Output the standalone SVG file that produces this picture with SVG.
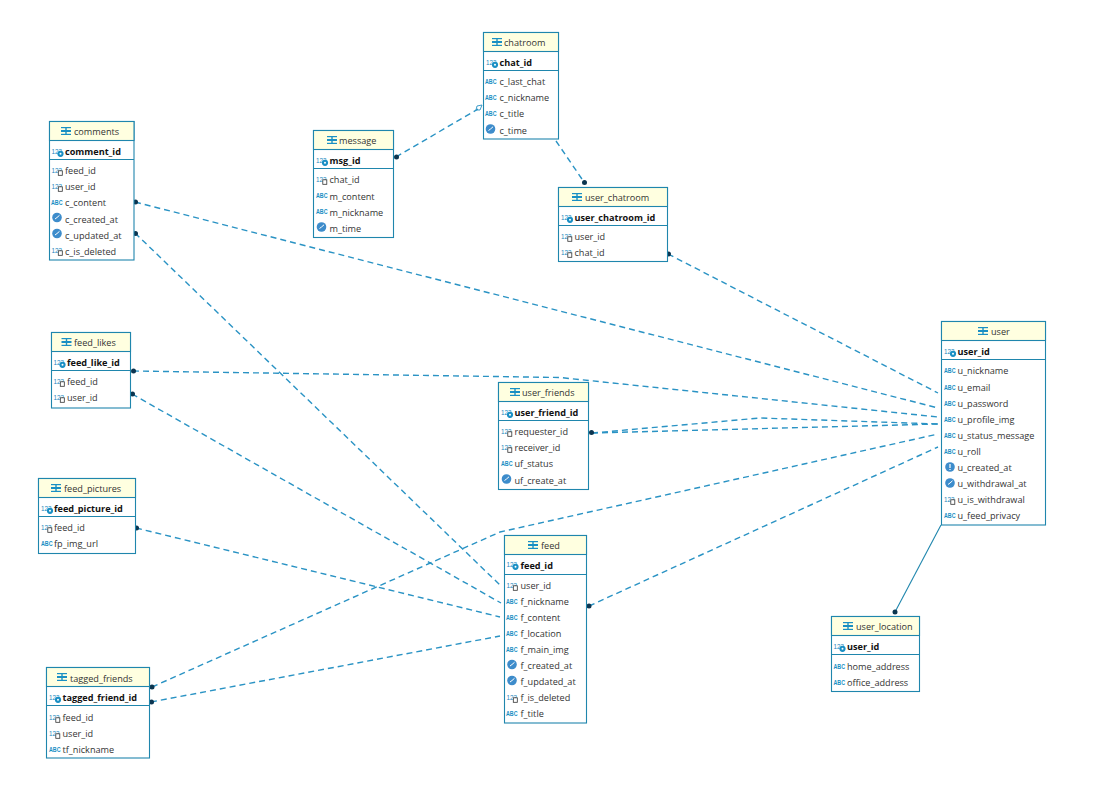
<svg xmlns="http://www.w3.org/2000/svg" width="1095" height="800" viewBox="0 0 1095 800">
<style>
text{font-family:"Open Sans","Noto Sans","Liberation Sans",sans-serif;font-size:9.15px;fill:#333}
.box{fill:#fff;stroke:#1f86ad;stroke-width:1.1}
.hd{fill:#ffffe0;stroke:#1f86ad;stroke-width:1.1}
.ln{stroke:#1f86ad;stroke-width:1.1}
.b{font-weight:700;fill:#111}
.ic{font-size:6.4px;font-weight:700;fill:#1a8fc4;font-family:"Liberation Sans",sans-serif}
.ic2{font-size:7.6px;fill:#1a86bd;font-family:"Liberation Sans",sans-serif}
.conn path{fill:none;stroke:#2a93c4;stroke-width:1.4;stroke-dasharray:6 4}
.conn path.solid{stroke-dasharray:none;stroke-width:1.1;stroke:#1f86ad}
.conn circle{fill:#0c3550}
</style>
<defs>
<g id="tb" fill="#1a8fc4"><rect x="0" y="0" width="10" height="1.2"/><rect x="0" y="3" width="10" height="2"/><rect x="0" y="6.8" width="10" height="1.2"/><rect x="4.3" y="0" width="1.4" height="8"/></g>
<g id="ck"><circle cx="5" cy="5" r="4.8" fill="#3d8ccb"/><path d="M5 5 7.5 2.8M5 5 3 6.5" stroke="#fff" stroke-width="1" fill="none"/></g>
<g id="ck2"><circle cx="5" cy="5" r="4.8" fill="#3d8ccb"/><path d="M5 2v4M5 7v1" stroke="#fff" stroke-width="1.2" fill="none"/></g>
<g id="ab"><text class="ic" x="0" y="6" textLength="11.500" lengthAdjust="spacingAndGlyphs">ABC</text></g>
<g id="nm"><text class="ic2" x="0" y="6.500" textLength="10.500" lengthAdjust="spacingAndGlyphs">123</text><rect x="6.800" y="4.800" width="4" height="4.500" fill="#fff" stroke="#333" stroke-width=".8"/></g>
<g id="pk"><text class="ic2" x="0" y="6.500" textLength="10.500" lengthAdjust="spacingAndGlyphs">123</text><circle cx="9" cy="6.800" r="3.100" fill="#1a8fc4"/><circle cx="9" cy="6.800" r="1" fill="#fff"/></g>
</defs>

<g class="conn" id="connectors">
<path d="M396 157 478 109"/>
<path d="M477 106l5-1-2 5h-4z" style="stroke-dasharray:none;stroke-width:.9"/>
<path d="M556 141 584 182"/>
<path d="M668 254 938 393"/>
<path d="M135 202 938 408"/>
<path d="M135 233 501 586"/>
<path d="M133 371 560 377.500 938 417"/>
<path d="M132 394 501 603"/>
<path d="M136 528 500 617"/>
<path d="M152 687 500 532 938 434"/>
<path d="M151 702 500 636"/>
<path d="M589 606 938 447"/>
<path d="M592 433 760 418 938 424"/>
<path d="M592 433 938 424"/>
<path class="solid" d="M941 525 895 612"/>
<circle cx="396.500" cy="157" r="2.500"/><circle cx="584.500" cy="182.500" r="2.500"/><circle cx="668.500" cy="254" r="2.500"/><circle cx="135.500" cy="202" r="2.500"/><circle cx="135.500" cy="233.500" r="2.500"/><circle cx="133.500" cy="371" r="2.500"/><circle cx="132.500" cy="394" r="2.500"/><circle cx="136.500" cy="528" r="2.500"/><circle cx="152" cy="687" r="2.500"/><circle cx="151.500" cy="702" r="2.500"/><circle cx="589" cy="606" r="2.500"/><circle cx="591.500" cy="432.500" r="2.500"/><circle cx="895" cy="612" r="2.500"/>
</g>

<g id="chatroom">
<rect class="box" x="483.500" y="32.500" width="75" height="106.500"/><rect class="hd" x="483.500" y="32.500" width="75" height="19"/><path class="ln" d="M483.500 70.500h75"/>
<use href="#tb" x="492" y="38"/><text x="504" y="46">chatroom</text>
<use href="#pk" x="486" y="58"/><text class="b" x="499.500" y="66">chat_id</text>
<use href="#ab" x="485" y="78"/><text x="499.500" y="85">c_last_chat</text>
<use href="#ab" x="485" y="94"/><text x="499.500" y="101">c_nickname</text>
<use href="#ab" x="485" y="110"/><text x="499.500" y="117">c_title</text>
<use href="#ck" x="485.500" y="124"/><text x="499.500" y="134">c_time</text>
</g>

<g id="message">
<rect class="box" x="313.500" y="130.500" width="80" height="107"/><rect class="hd" x="313.500" y="130.500" width="80" height="19"/><path class="ln" d="M313.500 168.500h80"/>
<use href="#tb" x="327" y="136"/><text x="339" y="144">message</text>
<use href="#pk" x="316" y="156"/><text class="b" x="329.500" y="164">msg_id</text>
<use href="#nm" x="316" y="175"/><text x="329.500" y="183">chat_id</text>
<use href="#ab" x="316" y="192"/><text x="329.500" y="199.500">m_content</text>
<use href="#ab" x="316" y="208"/><text x="329.500" y="216">m_nickname</text>
<use href="#ck" x="316.500" y="222"/><text x="329.500" y="232">m_time</text>
</g>

<g id="user_chatroom">
<rect class="box" x="558.500" y="187.500" width="109" height="74"/><rect class="hd" x="558.500" y="187.500" width="109" height="19"/><path class="ln" d="M558.500 225.500h109"/>
<use href="#tb" x="572" y="193"/><text x="585" y="201">user_chatroom</text>
<use href="#pk" x="561" y="213"/><text class="b" x="574.500" y="220.500">user_chatroom_id</text>
<use href="#nm" x="561" y="232"/><text x="574.500" y="240">user_id</text>
<use href="#nm" x="561" y="248"/><text x="574.500" y="256">chat_id</text>
</g>

<g id="comments">
<rect class="box" x="49.500" y="121.500" width="84.500" height="138.500"/><rect class="hd" x="49.500" y="121.500" width="84.500" height="19"/><path class="ln" d="M49.500 159.500h84.500"/>
<use href="#tb" x="61" y="127"/><text x="74" y="135">comments</text>
<use href="#pk" x="51.500" y="147"/><text class="b" x="65" y="155">comment_id</text>
<use href="#nm" x="51.500" y="166"/><text x="65" y="174">feed_id</text>
<use href="#nm" x="51.500" y="182"/><text x="65" y="190">user_id</text>
<use href="#ab" x="51" y="199"/><text x="65" y="206">c_content</text>
<use href="#ck" x="52" y="212.500"/><text x="65" y="222.500">c_created_at</text>
<use href="#ck" x="52" y="228.500"/><text x="65" y="238.500">c_updated_at</text>
<use href="#nm" x="51.500" y="246"/><text x="65" y="255">c_is_deleted</text>
</g>

<g id="feed_likes">
<rect class="box" x="51.500" y="332.500" width="79" height="75.500"/><rect class="hd" x="51.500" y="332.500" width="79" height="19"/><path class="ln" d="M51.500 370.500h79"/>
<use href="#tb" x="61.500" y="338"/><text x="74" y="346">feed_likes</text>
<use href="#pk" x="53.500" y="358"/><text class="b" x="67" y="366">feed_like_id</text>
<use href="#nm" x="53.500" y="377"/><text x="67" y="385">feed_id</text>
<use href="#nm" x="53.500" y="393"/><text x="67" y="401">user_id</text>
</g>

<g id="user_friends">
<rect class="box" x="498.500" y="382.500" width="90" height="107"/><rect class="hd" x="498.500" y="382.500" width="90" height="19"/><path class="ln" d="M498.500 420.500h90"/>
<use href="#tb" x="510" y="388"/><text x="522" y="396">user_friends</text>
<use href="#pk" x="501" y="408"/><text class="b" x="514.500" y="416">user_friend_id</text>
<use href="#nm" x="501" y="427"/><text x="514.500" y="435">requester_id</text>
<use href="#nm" x="501" y="443"/><text x="514.500" y="451">receiver_id</text>
<use href="#ab" x="501" y="460"/><text x="514.500" y="467">uf_status</text>
<use href="#ck" x="501.500" y="474"/><text x="514.500" y="484">uf_create_at</text>
</g>

<g id="feed_pictures">
<rect class="box" x="38.500" y="478.500" width="97" height="75"/><rect class="hd" x="38.500" y="478.500" width="97" height="19"/><path class="ln" d="M38.500 516.500h97"/>
<use href="#tb" x="51" y="484"/><text x="64" y="492">feed_pictures</text>
<use href="#pk" x="41" y="504"/><text class="b" x="54" y="512">feed_picture_id</text>
<use href="#nm" x="41" y="523"/><text x="54" y="531">feed_id</text>
<use href="#ab" x="41" y="540"/><text x="54" y="547">fp_img_url</text>
</g>

<g id="feed">
<rect class="box" x="504.500" y="535.500" width="82" height="187.500"/><rect class="hd" x="504.500" y="535.500" width="82" height="19"/><path class="ln" d="M504.500 574.500h82"/>
<use href="#tb" x="528" y="541"/><text x="541" y="549">feed</text>
<use href="#pk" x="506.500" y="560"/><text class="b" x="520.500" y="569">feed_id</text>
<use href="#nm" x="506.500" y="581"/><text x="520.500" y="589">user_id</text>
<use href="#ab" x="506" y="598"/><text x="520.500" y="605">f_nickname</text>
<use href="#ab" x="506" y="614"/><text x="520.500" y="621">f_content</text>
<use href="#ab" x="506" y="630"/><text x="520.500" y="637">f_location</text>
<use href="#ab" x="506" y="646"/><text x="520.500" y="653">f_main_img</text>
<use href="#ck" x="507" y="659.500"/><text x="520.500" y="669">f_created_at</text>
<use href="#ck" x="507" y="675.500"/><text x="520.500" y="685">f_updated_at</text>
<use href="#nm" x="506.500" y="693"/><text x="520.500" y="701">f_is_deleted</text>
<use href="#ab" x="506" y="710"/><text x="520.500" y="717">f_title</text>
</g>

<g id="tagged_friends">
<rect class="box" x="46.500" y="667.500" width="103" height="90.500"/><rect class="hd" x="46.500" y="667.500" width="103" height="19"/><path class="ln" d="M46.500 705.500h103"/>
<use href="#tb" x="57" y="673"/><text x="70" y="682">tagged_friends</text>
<use href="#pk" x="49" y="693"/><text class="b" x="62.500" y="701">tagged_friend_id</text>
<use href="#nm" x="49" y="713"/><text x="62.500" y="721">feed_id</text>
<use href="#nm" x="49" y="729"/><text x="62.500" y="737">user_id</text>
<use href="#ab" x="49" y="746"/><text x="62.500" y="753">tf_nickname</text>
</g>

<g id="user">
<rect class="box" x="941.500" y="321.500" width="104" height="203.500"/><rect class="hd" x="941.500" y="321.500" width="104" height="19"/><path class="ln" d="M941.500 359.500h104"/>
<use href="#tb" x="978" y="327"/><text x="991" y="335">user</text>
<use href="#pk" x="944" y="347"/><text class="b" x="957.500" y="355">user_id</text>
<use href="#ab" x="944" y="367"/><text x="957.500" y="374">u_nickname</text>
<use href="#ab" x="944" y="384"/><text x="957.500" y="391">u_email</text>
<use href="#ab" x="944" y="400"/><text x="957.500" y="407">u_password</text>
<use href="#ab" x="944" y="416"/><text x="957.500" y="423">u_profile_img</text>
<use href="#ab" x="944" y="432"/><text x="957.500" y="439">u_status_message</text>
<use href="#ab" x="944" y="448"/><text x="957.500" y="455">u_roll</text>
<use href="#ck2" x="945" y="462"/><text x="957.500" y="471">u_created_at</text>
<use href="#ck" x="945" y="478"/><text x="957.500" y="487">u_withdrawal_at</text>
<use href="#nm" x="944" y="495"/><text x="957.500" y="503">u_is_withdrawal</text>
<use href="#ab" x="944" y="512"/><text x="957.500" y="519">u_feed_privacy</text>
</g>

<g id="user_location">
<rect class="box" x="831.500" y="616.500" width="88" height="75"/><rect class="hd" x="831.500" y="616.500" width="88" height="19"/><path class="ln" d="M831.500 654.500h88"/>
<use href="#tb" x="843" y="622"/><text x="856" y="630">user_location</text>
<use href="#pk" x="833.500" y="642"/><text class="b" x="847" y="650">user_id</text>
<use href="#ab" x="833.500" y="663"/><text x="847" y="670">home_address</text>
<use href="#ab" x="833.500" y="679"/><text x="847" y="686">office_address</text>
</g>
</svg>
